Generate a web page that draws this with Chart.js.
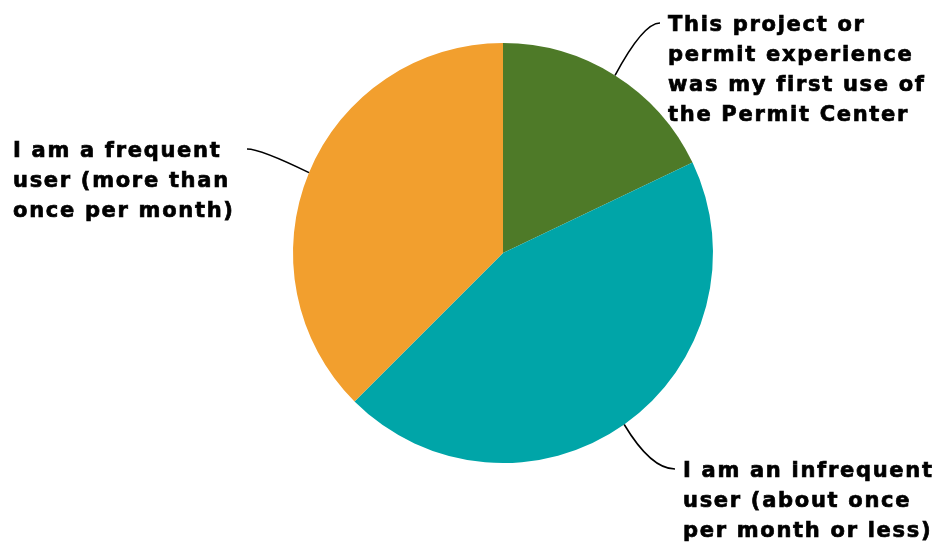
<!DOCTYPE html>
<html>
<head>
<meta charset="utf-8">
<script src="https://cdn.jsdelivr.net/npm/chart.js@4/dist/chart.umd.min.js"></script>
<style>
  html, body { margin: 0; padding: 0; background: #fff; }
  #wrap { width: 940px; height: 542px; position: relative; }
</style>
</head>
<body>
<div id="wrap"><canvas id="pie"></canvas></div>
<script>
// survey responses: how often people use the Permit Center
const categories = [
  ['This project or', 'permit experience', 'was my first use of', 'the Permit Center'],
  ['I am an infrequent', 'user (about once', 'per month or less)'],
  ['I am a frequent', 'user (more than', 'once per month)'],
];
const responses = [43, 107, 90];
const colors = ['#4E7A28', '#00A5A8', '#F29F2E'];

// where each callout block sits (left x, first-line y) and which way the leader ends
const callouts = [
  { x: 668, y: 23, end: 'left' },
  { x: 683, y: 469, end: 'left' },
  { x: 13, y: 149, end: 'right', lineEnd: 247 },
];
const lineGap = 30;
const textShift = 2.5;

const calloutPlugin = {
  id: 'callouts',
  afterDatasetsDraw(chart) {
    const { ctx } = chart;
    const arcs = chart.getDatasetMeta(0).data;
    ctx.save();
    ctx.font = 'bold 21px "DejaVu Sans"';
    ctx.letterSpacing = '1.7px';
    ctx.fillStyle = '#000';
    ctx.strokeStyle = '#000';
    ctx.textBaseline = 'middle';
    ctx.textAlign = 'left';
    arcs.forEach((arc, i) => {
      const c = callouts[i];
      const mid = (arc.startAngle + arc.endAngle) / 2;
      const sx = arc.x + Math.cos(mid) * arc.outerRadius;
      const sy = arc.y + Math.sin(mid) * arc.outerRadius;
      const ex = c.end === 'left' ? c.x - 8 : c.lineEnd;
      const ey = c.y;
      // bend point: radial extension meets the label row
      const t = (ey - sy) / Math.sin(mid);
      const cx = sx + Math.cos(mid) * t * 0.85;
      ctx.lineWidth = 1.6;
      ctx.beginPath();
      ctx.moveTo(sx, sy);
      ctx.quadraticCurveTo(cx, ey, ex, ey);
      ctx.stroke();
      ctx.lineWidth = 0.7;
      categories[i].forEach((line, k) => {
        const y = c.y + textShift + k * lineGap;
        ctx.fillText(line, c.x, y);
        ctx.strokeText(line, c.x, y);
      });
    });
    ctx.restore();
  }
};

new Chart(document.getElementById('pie'), {
  type: 'pie',
  data: {
    labels: categories.map(l => l.join(' ')),
    datasets: [{
      data: responses,
      backgroundColor: colors,
      borderWidth: 0,
    }]
  },
  options: {
    responsive: true,
    maintainAspectRatio: false,
    animation: false,
    devicePixelRatio: 1,
    layout: { padding: { top: 43, bottom: 79, left: 293, right: 227 } },
    plugins: {
      legend: { display: false },
      tooltip: { enabled: false },
    },
  },
  plugins: [calloutPlugin],
});
</script>
</body>
</html>
